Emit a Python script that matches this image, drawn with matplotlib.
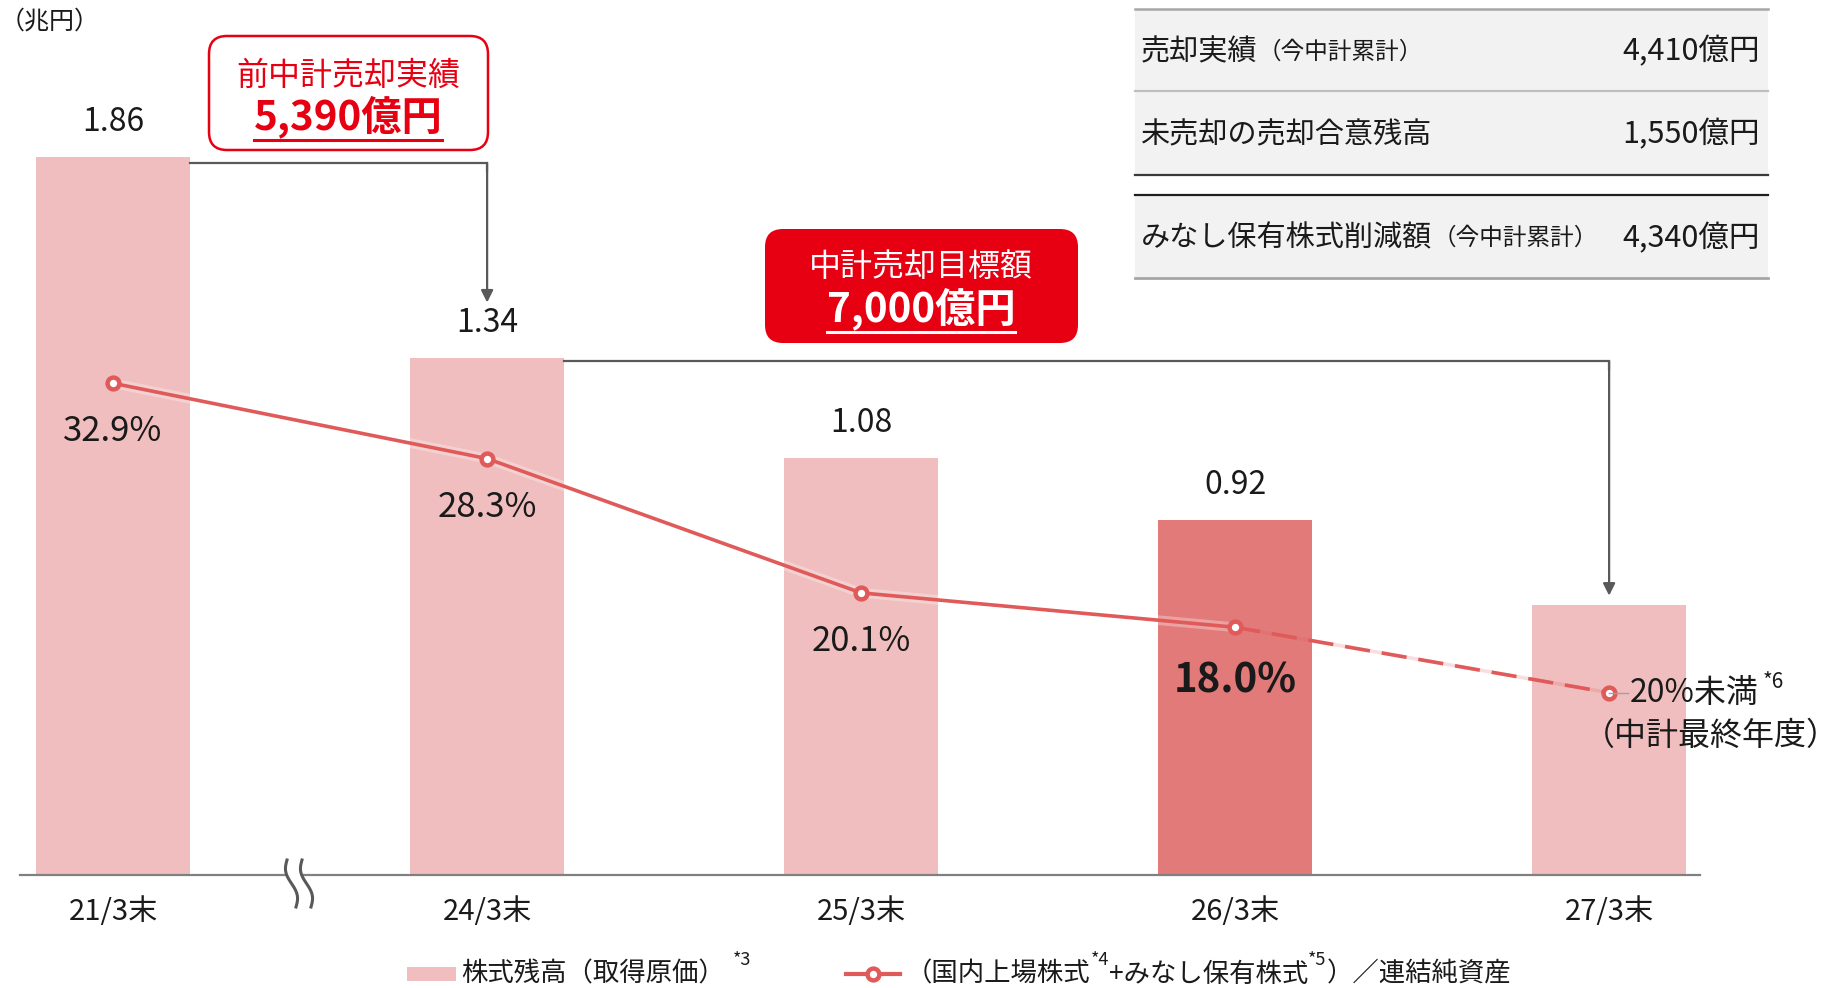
import matplotlib
matplotlib.use("Agg")
import matplotlib.pyplot as plt
import numpy as np
from matplotlib.patches import FancyBboxPatch, Rectangle
from matplotlib.lines import Line2D
import matplotlib.transforms as mtransforms
import matplotlib.patheffects as pe

plt.rcParams["font.family"] = ["Noto Sans CJK JP", "DejaVu Sans"]

# ---- data ----
categories = ["21/3末", "24/3末", "25/3末", "26/3末", "27/3末"]
balance = [1.86, 1.34, 1.08, 0.92, 0.70]          # 株式残高（兆円）
balance_labels = ["1.86", "1.34", "1.08", "0.92", ""]
ratio = [32.9, 28.3, 20.1, 18.0, 14.0]             # 純資産比率（%）
ratio_labels = ["32.9%", "28.3%", "20.1%", "18.0%"]

table_items = ["売却実績", "未売却の売却合意残高", "みなし保有株式削減額"]
table_notes = ["（今中計累計）", "", "（今中計累計）"]
table_values = ["4,410億円", "1,550億円", "4,340億円"]

prev_title, prev_amount = "前中計売却実績", "5,390億円"
goal_title, goal_amount = "中計売却目標額", "7,000億円"

# ---- style ----
W, H = 1838, 988
c_bar = "#f0bebe"
c_bar_hi = "#e27a7a"
c_line = "#e05a5a"
c_red = "#e60012"
c_arrow = "#595959"
c_text = "#1a1a1a"

fig = plt.figure(figsize=(W / 100, H / 100), dpi=100, facecolor="white")
renderer = fig.canvas.get_renderer()
# pixel coordinates measured from the top-left corner
PX = mtransforms.Affine2D().scale(1 / W, -1 / H).translate(0, 1) + fig.transFigure


def ftext(xp, yp, s, **kw):
    return fig.text(xp / W, 1 - yp / H, s, **kw)


def text_after(prev, s, gap, yp, **kw):
    """place a text just to the right of another figure text"""
    bb = prev.get_window_extent(renderer)
    return ftext(bb.x1 + gap, yp, s, ha="left", **kw)


ax = fig.add_axes([20 / W, (H - 874.5) / H, 1680 / W, 867.8 / H])
ax.set_xlim(-0.249, 4.243)
ax.set_ylim(0, 2.25)
ax.set_facecolor("none")
for s in ["top", "right", "left"]:
    ax.spines[s].set_visible(False)
ax.spines["bottom"].set_color("#808080")
ax.spines["bottom"].set_linewidth(1.6)
ax.set_xticks([])
ax.set_yticks([])

x = np.arange(len(categories))
colors = [c_bar, c_bar, c_bar, c_bar_hi, c_bar]
ax.bar(x, balance, width=0.41, color=colors, zorder=1)

for i, lab in enumerate(balance_labels):
    if lab:
        ax.annotate(lab, (x[i], balance[i]), xytext=(0, 25), textcoords="offset points",
                    ha="center", va="center", fontsize=23, color=c_text)
for i, cat in enumerate(categories):
    ax.annotate(cat, (x[i], 0), xytext=(0, -27), textcoords="offset points",
                ha="center", va="center", fontsize=21, color=c_text)

# ratio line on its own scale
ax2 = ax.twinx()
ax2.set_ylim(2.9, 55.9)
ax2.axis("off")
halo = [pe.Stroke(linewidth=7, foreground="white", alpha=0.3), pe.Normal()]
ax2.plot(x[:4], ratio[:4], color=c_line, lw=2.6, zorder=3, path_effects=halo,
         solid_capstyle="round")
ax2.plot(x[3:], ratio[3:], color=c_line, lw=2.6, alpha=0.2, zorder=3)
ax2.plot(x[3:], ratio[3:], color=c_line, lw=2.6, ls=(0, (7, 3.3)), zorder=3)
ax2.plot(x, ratio, ls="none", marker="o", ms=8.5, mfc="white", mec=c_line, mew=3.2, zorder=4)

for i, lab in enumerate(ratio_labels):
    bold = i == 3
    ax2.annotate(lab, (x[i], ratio[i]), xytext=(0, -39 if bold else -35),
                 textcoords="offset points", ha="center", va="center",
                 fontsize=29 if bold else 25, fontweight="bold" if bold else "normal",
                 color=c_text)

# final-year target note
ax2.plot([x[4], x[4] + 0.05], [ratio[4], ratio[4]], color="#a0a0a0", lw=1, zorder=5)
t20 = ax2.annotate("20%未満", (x[4], ratio[4]), xytext=(15, 0), textcoords="offset points",
                   ha="left", va="center", fontsize=23, color=c_text)
ax2.annotate("*6", xy=(1, 0.85), xycoords=t20, xytext=(3, 0), textcoords="offset points",
             ha="left", va="center", fontsize=15, color=c_text)
ax2.annotate("（中計最終年度）", (x[4], ratio[4]), xytext=(73, -31), textcoords="offset points",
             ha="center", va="center", fontsize=23, color=c_text)

# elbow arrows between bars
def elbow_arrow(x0, x1, y0, y1):
    ax.plot([x0, x1, x1], [y0, y0, y0 - 0.02], color=c_arrow, lw=1.6, zorder=2,
            solid_joinstyle="miter")
    ax.annotate("", xy=(x1, y1), xytext=(x1, y0),
                arrowprops=dict(arrowstyle="-|>", color=c_arrow, lw=1.6,
                                mutation_scale=18, shrinkA=0, shrinkB=0), zorder=2)

elbow_arrow(x[0] + 0.205, x[1], balance[0] - 0.015, balance[1] + 0.143)
elbow_arrow(x[1] + 0.205, x[4], balance[1] - 0.009, balance[4] + 0.023)

# axis break mark
t = np.linspace(0, 1, 60)
ys = 860 + 47 * t
xs_a = 287 + 9 * t - 3.5 * np.sin(2 * np.pi * t)
xs_b = 302 + 9 * t - 3.5 * np.sin(2 * np.pi * t)
poly = np.column_stack([np.r_[xs_a, xs_b[::-1]], np.r_[ys, ys[::-1]]])
fig.add_artist(plt.Polygon(poly, closed=True, transform=PX, facecolor="white",
                           edgecolor="none", zorder=5))
for xs in (xs_a, xs_b):
    fig.add_artist(Line2D(xs, ys, transform=PX, color="#595959", lw=2.2, zorder=6))

ftext(0, 22, "（兆円）", fontsize=18, ha="left", va="center", color=c_text)

# callout boxes
def underline(txt, color):
    bb = txt.get_window_extent(renderer)
    fig.add_artist(Line2D([bb.x0, bb.x1], [H - bb.y0 + 2, H - bb.y0 + 2], transform=PX,
                          color=color, lw=2.2, zorder=6))

fig.add_artist(FancyBboxPatch((209, 36), 279, 114, boxstyle="round,pad=0,rounding_size=18",
                              transform=PX, facecolor="white", edgecolor=c_red, lw=1.8,
                              zorder=4))
ftext(348, 76, prev_title, ha="center", va="center", fontsize=23, color=c_red, zorder=6)
a1 = ftext(348, 117, prev_amount, ha="center", va="center", fontsize=29,
           fontweight="bold", color=c_red, zorder=6)
underline(a1, c_red)

fig.add_artist(FancyBboxPatch((765, 229), 313, 114, boxstyle="round,pad=0,rounding_size=18",
                              transform=PX, facecolor=c_red, edgecolor="none", zorder=4))
ftext(921, 267, goal_title, ha="center", va="center", fontsize=23, color="white", zorder=6)
a2 = ftext(921, 309, goal_amount, ha="center", va="center", fontsize=29,
           fontweight="bold", color="white", zorder=6)
underline(a2, "white")

# summary table (top right)
tx0, tx1 = 1135, 1768
rows = [(9, 91), (91, 175), (195, 278)]
for (r0, r1) in rows:
    fig.add_artist(Rectangle((tx0, r0), tx1 - tx0, r1 - r0, transform=PX,
                             facecolor="#f2f2f2", edgecolor="none", zorder=1))
for yy, col, lw in [(9, "#a6a6a6", 1.8), (91, "#bfbfbf", 1.6), (175, "#3a3a3a", 1.6),
                    (195, "#1f1f1f", 1.6), (278, "#a6a6a6", 2.0)]:
    fig.add_artist(Line2D([tx0, tx1], [yy, yy], transform=PX, color=col, lw=lw, zorder=2))

for (r0, r1), item, note, val in zip(rows, table_items, table_notes, table_values):
    yc = (r0 + r1) / 2 + 2
    ti = ftext(1141, yc, item, ha="left", va="center", fontsize=21, color=c_text, zorder=3)
    if note:
        text_after(ti, note, 0, yc, va="center", fontsize=17, color=c_text, zorder=3)
    ftext(1760, yc, val, ha="right", va="center", fontsize=22, color=c_text, zorder=3)

# legend
ly = 974
fig.add_artist(Rectangle((407, ly - 7), 49, 14, transform=PX, facecolor=c_bar,
                         edgecolor="none"))
lg1 = ftext(461, ly, "株式残高（取得原価）", ha="left", va="center", fontsize=19,
            color=c_text)
text_after(lg1, "*3", 8, ly - 14, va="center", fontsize=13, color=c_text)
fig.add_artist(Line2D([846, 900], [ly, ly], transform=PX, color=c_line, lw=3))
fig.add_artist(Line2D([873], [ly], transform=PX, ls="none", marker="o", ms=8.5,
                      mfc="white", mec=c_line, mew=3.2))
lg2 = ftext(906, ly, "（国内上場株式", ha="left", va="center", fontsize=19, color=c_text)
s4 = text_after(lg2, "*4", 0, ly - 14, va="center", fontsize=13, color=c_text)
lg3 = text_after(s4, "+みなし保有株式", 0, ly, va="center", fontsize=19, color=c_text)
s5 = text_after(lg3, "*5", 0, ly - 14, va="center", fontsize=13, color=c_text)
text_after(s5, "）／連結純資産", 0, ly, va="center", fontsize=19, color=c_text)

fig.savefig("out.png", dpi=100, facecolor="white")
